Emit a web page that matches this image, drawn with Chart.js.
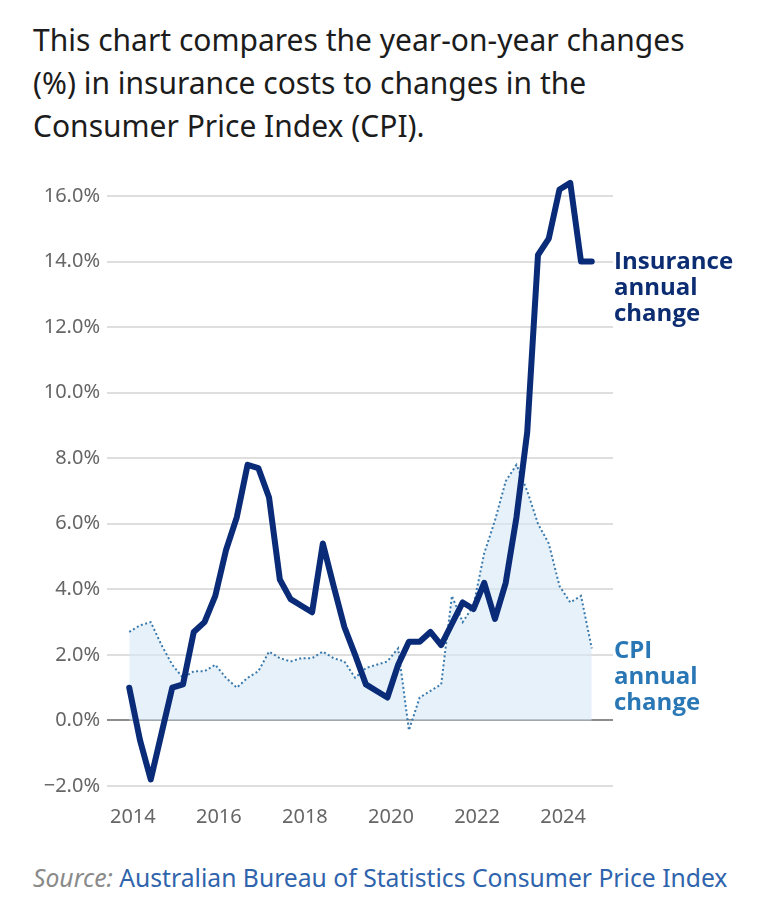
<!DOCTYPE html>
<html>
<head>
<meta charset="utf-8">
<script src="https://cdn.jsdelivr.net/npm/chart.js@4"></script>
<style>
  body { margin: 0; background: #fff; width: 768px; height: 923px; position: relative; overflow: hidden; }
  #title { position: absolute; left: 33px; top: 18px; width: 730px; font: 30px 'Noto Sans', sans-serif; line-height: 43px; color: #1c1c1c; }
  #wrap { position: absolute; left: 0; top: 170px; }
  #source { position: absolute; left: 33px; top: 861px; font: 24.7px 'Noto Sans', sans-serif; color: #2f64ad; white-space: nowrap; }
  #source i { color: #8a8a8a; }
</style>
</head>
<body>
<div id="title">This chart compares the year-on-year changes<br>(%) in insurance costs to changes in the<br>Consumer Price Index (CPI).</div>
<div id="wrap"><canvas id="insChart" width="768" height="670"></canvas></div>
<div id="source"><i>Source:</i> Australian Bureau of Statistics Consumer Price Index</div>
<script>
// quarterly data, Dec 2013 to Sep 2024
const quarters = [
    'Dec 2013', 'Mar 2014', 'Jun 2014', 'Sep 2014', 'Dec 2014', 'Mar 2015', 'Jun 2015', 'Sep 2015',
    'Dec 2015', 'Mar 2016', 'Jun 2016', 'Sep 2016', 'Dec 2016', 'Mar 2017', 'Jun 2017', 'Sep 2017',
    'Dec 2017', 'Mar 2018', 'Jun 2018', 'Sep 2018', 'Dec 2018', 'Mar 2019', 'Jun 2019', 'Sep 2019',
    'Dec 2019', 'Mar 2020', 'Jun 2020', 'Sep 2020', 'Dec 2020', 'Mar 2021', 'Jun 2021', 'Sep 2021',
    'Dec 2021', 'Mar 2022', 'Jun 2022', 'Sep 2022', 'Dec 2022', 'Mar 2023', 'Jun 2023', 'Sep 2023',
    'Dec 2023', 'Mar 2024', 'Jun 2024', 'Sep 2024'
];
const insuranceChange = [
    1.0, -0.6, -1.8, -0.4, 1.0, 1.1, 2.7, 3.0,
    3.8, 5.2, 6.2, 7.8, 7.7, 6.8, 4.3, 3.7,
    3.5, 3.3, 5.4, 4.1, 2.85, 2.0, 1.1, 0.9,
    0.7, 1.7, 2.4, 2.4, 2.7, 2.3, 2.95, 3.6,
    3.4, 4.2, 3.1, 4.2, 6.2, 8.8, 14.2, 14.7,
    16.2, 16.4, 14.0, 14.0
];
const cpiChange = [
    2.7, 2.9, 3.0, 2.3, 1.7, 1.3, 1.5, 1.5,
    1.7, 1.3, 1.0, 1.3, 1.5, 2.1, 1.9, 1.8,
    1.9, 1.9, 2.1, 1.9, 1.8, 1.3, 1.6, 1.7,
    1.8, 2.2, -0.3, 0.7, 0.9, 1.1, 3.8, 3.0,
    3.5, 5.1, 6.1, 7.3, 7.8, 7.0, 6.0, 5.4,
    4.1, 3.6, 3.8, 2.2
];
const yearTicks = [2014, 2016, 2018, 2020, 2022, 2024];
const seriesLabels = [['Insurance', 'annual', 'change'], ['CPI', 'annual', 'change']];

const monthIdx = {Mar: 2, Jun: 5, Sep: 8, Dec: 11};
// turn 'Mar 2014' into a decimal year for the linear x axis
function toYear(q) {
    const parts = q.split(' ');
    return parseInt(parts[1]) + monthIdx[parts[0]] / 12;
}
const xs = quarters.map(toYear);

const endLabels = {
    id: 'endLabels',
    afterDatasetsDraw(chart) {
        const ctx = chart.ctx;
        const y = chart.scales.y;
        const x0 = chart.chartArea.right + 1;
        const colors = ['#0c2d72', '#2a77b6'];
        const lastVals = [insuranceChange[insuranceChange.length - 1], cpiChange[cpiChange.length - 1]];
        const shift = [1, 3];
        ctx.save();
        ctx.font = "bold 24px 'Open Sans'";
        ctx.textBaseline = 'middle';
        for (let i = 0; i < 2; i++) {
            ctx.fillStyle = colors[i];
            const yy = y.getPixelForValue(lastVals[i]) + shift[i];
            seriesLabels[i].forEach((t, j) => ctx.fillText(t, x0, yy + j * 26));
        }
        ctx.restore();
    }
};

const ctx = document.getElementById('insChart').getContext('2d');
const chart = new Chart(ctx, {
    type: 'line',
    data: {
        datasets: [{
            label: 'Insurance annual change',
            data: xs.map((x, i) => ({x: x, y: insuranceChange[i]})),
            borderColor: '#0a2c78',
            borderWidth: 6,
            borderJoinStyle: 'round',
            borderCapStyle: 'round',
            pointRadius: 0,
            fill: false,
            clip: false,
        }, {
            label: 'CPI annual change',
            data: xs.map((x, i) => ({x: x, y: cpiChange[i]})),
            borderColor: '#3a79ab',
            borderWidth: 2,
            borderDash: [2, 2.5],
            backgroundColor: 'rgba(214, 232, 247, 0.6)',
            pointRadius: 0,
            fill: 'origin',
            clip: false,
        }]
    },
    options: {
        responsive: false,
        animation: false,
        devicePixelRatio: 1,
        layout: { padding: { left: 0, right: 155, top: 26, bottom: 0 } },
        plugins: { legend: { display: false }, tooltip: { enabled: false } },
        scales: {
            x: {
                type: 'linear',
                min: 2013.4,
                max: 2025.16,
                afterBuildTicks: (scale) => { scale.ticks = yearTicks.map(v => ({value: v})); },
                grid: { display: false },
                border: { display: false },
                ticks: {
                    color: '#666',
                    font: { family: 'Noto Sans', size: 20 },
                    padding: 11,
                    maxRotation: 0,
                    autoSkip: false,
                    callback: (v) => String(v)
                }
            },
            y: {
                min: -2,
                max: 16,
                afterFit: (scale) => { scale.width = 107; },
                grid: {
                    drawTicks: false,
                    lineWidth: 2,
                    color: (c) => c.tick && c.tick.value === 0 ? '#8c8c8c' : '#dedede'
                },
                border: { display: false },
                ticks: {
                    stepSize: 2,
                    color: '#666',
                    padding: 7,
                    font: { family: 'Noto Sans', size: 20 },
                    callback: (v) => v.toFixed(1).replace('-', '\u2212') + '%'
                }
            }
        }
    },
    plugins: [endLabels]
});
</script>
</body>
</html>
